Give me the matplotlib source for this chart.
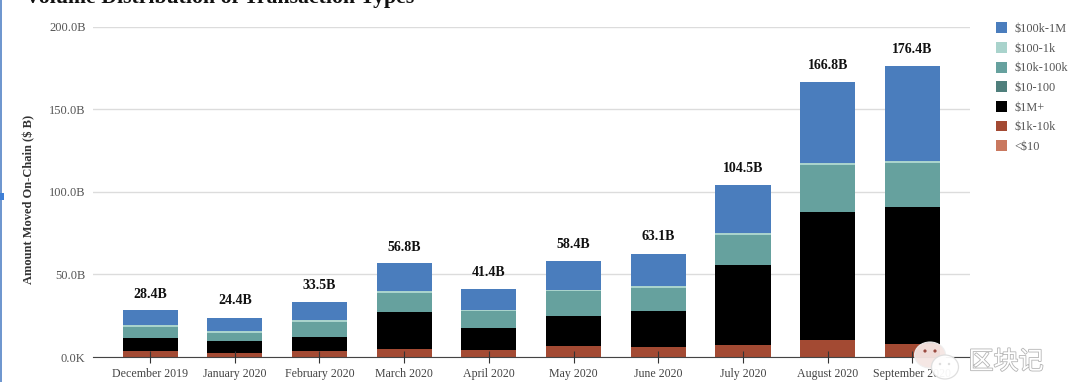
import matplotlib
matplotlib.use("Agg")
import matplotlib.pyplot as plt
import matplotlib.patheffects as pe
from matplotlib.patches import Circle, Ellipse, Rectangle

months = ["December 2019", "January 2020", "February 2020", "March 2020", "April 2020",
          "May 2020", "June 2020", "July 2020", "August 2020", "September 2020"]
totals = [28.4, 24.4, 33.5, 56.8, 41.4, 58.4, 63.1, 104.5, 166.8, 176.4]

# segment heights in $B
under_10 = [0.1, 0.1, 0.1, 0.1, 0.1, 0.1, 0.1, 0.1, 0.1, 0.1]
k1_10 = [3.4, 2.4, 3.4, 4.9, 3.9, 6.4, 5.9, 6.9, 9.9, 7.9]
m1_plus = [8.0, 6.9, 8.5, 22.0, 13.5, 18.5, 22.0, 48.5, 77.5, 82.5]
d10_100 = [0.05, 0.05, 0.05, 0.05, 0.05, 0.05, 0.05, 0.05, 0.05, 0.05]
k10_100 = [6.6, 5.2, 9.1, 11.6, 10.1, 14.6, 13.6, 18.1, 28.6, 26.6]
d100_1k = [1.0, 1.0, 1.0, 1.1, 1.0, 1.1, 1.1, 1.1, 1.2, 1.2]
k100_1m = [9.25, 8.25, 11.35, 17.05, 12.25, 17.25, 19.85, 29.25, 49.05, 57.65]

series = [("<$10", under_10, "#c9785f"),
          ("$1k-10k", k1_10, "#a34a33"),
          ("$1M+", m1_plus, "#000000"),
          ("$10-100", d10_100, "#4f7f7c"),
          ("$10k-100k", k10_100, "#66a19e"),
          ("$100-1k", d100_1k, "#a9d3cc"),
          ("$100k-1M", k100_1m, "#4a7dbd")]
legend_order = ["$100k-1M", "$100-1k", "$10k-100k", "$10-100", "$1M+", "$1k-10k", "<$10"]
yticks = [0, 50, 100, 150, 200]
ylabels = ["0.0K", "50.0B", "100.0B", "150.0B", "200.0B"]

plt.rcParams["font.family"] = ["Liberation Serif", "DejaVu Serif"]

fig = plt.figure(figsize=(10.8, 3.82), dpi=100)
ax = fig.add_axes([92.5 / 1080, 25 / 382, 877.5 / 1080, 330.5 / 382])

x = list(range(len(months)))
bottom = [0] * len(months)
bars = {}
for name, vals, col in series:
    bars[name] = ax.bar(x, vals, 0.65, bottom=bottom, color=col, label=name, zorder=3)
    bottom = [b + v for b, v in zip(bottom, vals)]

for i, t in enumerate(totals):
    ax.annotate("%.1fB" % t, (i, t), xytext=(0, 11.5), textcoords="offset points",
                ha="center", va="center", fontsize=10, fontweight="bold", color="#111111", zorder=5)

ax.set_xlim(-0.68, 9.68)
ax.set_ylim(0, 200)
ax.set_xticks(x)
ax.set_xticklabels(months, fontsize=8.6, color="#444444")
ax.set_yticks(yticks)
ax.set_yticklabels(ylabels, fontsize=9, color="#555555")
ax.tick_params(axis="y", length=0, pad=5)
ax.tick_params(axis="x", direction="inout", length=9, width=0.8, color="#333333", pad=3.5)
ax.grid(axis="y", color="#dcdcdc", lw=1)
ax.set_axisbelow(True)
ax.xaxis.set_zorder(6)
for s in ["top", "right", "left"]:
    ax.spines[s].set_visible(False)
ax.spines["bottom"].set_color("#444444")
ax.spines["bottom"].set_zorder(4)

fig.text(29 / 1080, 1 - 199.5 / 382, "Amount Moved On-Chain ($ B)", rotation=90, ha="center", va="center",
         fontsize=9, fontweight="bold", color="#333333")
fig.text(25 / 1080, 1 - 3 / 382, "Volume Distribution of Transaction Types", ha="left", va="baseline",
         fontsize=15.7, fontweight="bold", color="#111111")

handles = [bars[n] for n in legend_order]
leg = fig.legend(handles, legend_order, loc="upper left", bbox_to_anchor=(994 / 1080, 1 - 20 / 382),
                 frameon=False, fontsize=8.8, labelcolor="#555555", handlelength=0.9, handleheight=1.0,
                 handletextpad=0.57, labelspacing=0.57, borderpad=0.2, borderaxespad=0)

# left page edge of the screenshot
fig.add_artist(Rectangle((0, 0), 2 / 1080, 1, transform=fig.transFigure, color="#6f97cf", lw=0))
fig.add_artist(Rectangle((0, 1 - 200 / 382), 4 / 1080, 7 / 382, transform=fig.transFigure, color="#3f7fd6", lw=0))

# watermark
wm = fig.add_axes([0, 0, 1, 1], facecolor="none")
wm.set_xlim(0, 1080)
wm.set_ylim(382, 0)
wm.axis("off")
wm.add_patch(Ellipse((930, 355), 31, 26, fc="#f5e6e3", ec="#eeeeee", lw=0.8, alpha=0.95, zorder=2))
wm.add_patch(Circle((925, 351), 1.6, fc="#9a4a40", lw=0, zorder=3))
wm.add_patch(Circle((935, 351), 1.6, fc="#9a4a40", lw=0, zorder=3))
wm.add_patch(Ellipse((945, 367), 27, 24, fc="#ffffff", ec="#dddddd", lw=0.9, alpha=0.95, zorder=4))
wm.add_patch(Circle((940, 364), 1.2, fc="#dddddd", lw=0, zorder=5))
wm.add_patch(Circle((949, 364), 1.2, fc="#dddddd", lw=0, zorder=5))
wm.text(1006, 362, "区块记", family=["Noto Sans CJK SC", "DejaVu Sans"], fontsize=18, color="#ffffff",
        ha="center", va="center", zorder=6,
        path_effects=[pe.withStroke(linewidth=1.2, foreground="#b5b5b5")])

fig.savefig("out.png", dpi=100)
